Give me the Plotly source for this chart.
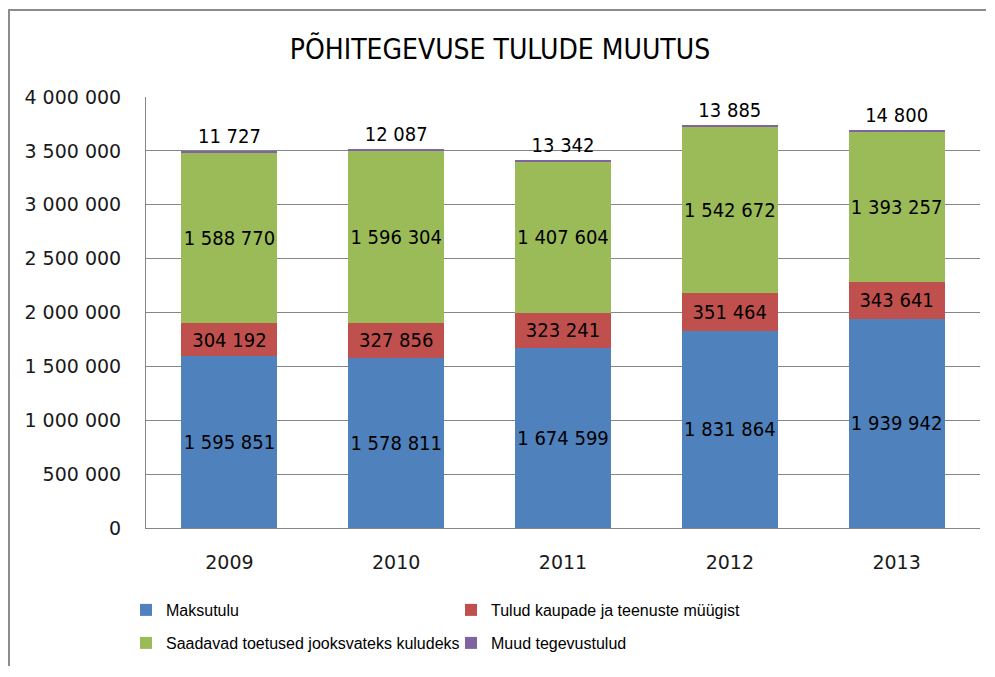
import plotly.graph_objects as go

years = ["2009", "2010", "2011", "2012", "2013"]
maksutulu = [1595851, 1578811, 1674599, 1831864, 1939942]
tulud_kaupade = [304192, 327856, 323241, 351464, 343641]
saadavad = [1588770, 1596304, 1407604, 1542672, 1393257]
muud = [11727, 12087, 13342, 13885, 14800]

series_names = ["Maksutulu", "Tulud kaupade ja teenuste müügist",
                "Saadavad toetused jooksvateks kuludeks", "Muud tegevustulud"]
series_values = [maksutulu, tulud_kaupade, saadavad, muud]
colors = ["#4F81BD", "#C0504D", "#9BBB59", "#8064A2"]
legend_ids = ["legend", "legend", "legend2", "legend2"]
tick_vals = [0, 500000, 1000000, 1500000, 2000000, 2500000, 3000000, 3500000, 4000000]

LABEL_FONT = dict(family="DejaVu Sans Condensed", size=20, color="#000000")
TICK_FONT = dict(family="DejaVu Sans", size=19, color="#1a1a1a")
LEG_FONT = dict(family="Liberation Sans", size=16, color="#000000")

# page offset (browser body margin) = 8 px
OFF = 8
W, H = 995 - 2 * OFF, 677 - 2 * OFF - 2
# plot area in screen pixels
SL, SR, ST, SB = 146, 980, 97, 528
L, R, T, B = SL - OFF, W - (SR - OFF), ST - OFF, H - (SB - OFF)
pw, ph = W - L - R, H - T - B


def px_x(sx):
    return (sx - OFF - L) / pw


def px_y(sy):
    return (H - B - (sy - OFF)) / ph


fig = go.Figure()
for i, (name, vals, col, lg) in enumerate(zip(series_names, series_values, colors, legend_ids)):
    top = i == len(series_names) - 1
    fig.add_trace(go.Bar(
        x=years, y=vals, name=name, legend=lg,
        marker=dict(color=col, line=dict(width=0)),
        texttemplate="%{y:,.0f}",
        textposition="outside" if top else "inside",
        insidetextanchor="middle",
        textangle=0,
        constraintext="none",
        cliponaxis=False,
        textfont=LABEL_FONT,
        outsidetextfont=LABEL_FONT,
        insidetextfont=LABEL_FONT,
        hoverinfo="skip",
    ))

leg_common = dict(orientation="h", xanchor="left", yanchor="middle",
                  entrywidth=280, font=LEG_FONT, traceorder="normal",
                  itemwidth=30, bgcolor="rgba(0,0,0,0)")

fig.update_layout(
    width=W, height=H,
    margin=dict(l=L, r=R, t=T, b=B, autoexpand=False),
    barmode="stack",
    bargap=0.425,
    separators=", ",
    paper_bgcolor="white", plot_bgcolor="white",
    font=dict(family="DejaVu Sans", color="#000000"),
    title=dict(text="PÕHITEGEVUSE TULUDE MUUTUS", x=(500 - OFF) / W, xanchor="center",
               y=1 - (49 - OFF) / H, yanchor="middle",
               font=dict(family="DejaVu Sans Condensed", size=28, color="#000000")),
    xaxis=dict(showline=True, linecolor="#868686", linewidth=1, ticks="",
               tickfont=TICK_FONT, ticklabelstandoff=17, fixedrange=True,
               automargin=False),
    yaxis=dict(range=[0, 4000000], tickvals=tick_vals, tickformat=",.0f",
               showgrid=True, gridcolor="#868686", gridwidth=1,
               showline=True, linecolor="#868686", linewidth=1, ticks="",
               tickfont=TICK_FONT, ticklabelstandoff=20, zeroline=False,
               fixedrange=True, automargin=False),
    legend=dict(x=px_x(126), y=px_y(610), **leg_common),
    legend2=dict(x=px_x(126), y=px_y(643), **leg_common),
    showlegend=True,
    shapes=[
        dict(type="rect", xref="paper", yref="paper", x0=px_x(8), x1=px_x(986),
             y0=px_y(11), y1=px_y(9), fillcolor="#8C8C8C", line=dict(width=0)),
        dict(type="rect", xref="paper", yref="paper", x0=px_x(8), x1=px_x(10),
             y0=px_y(666), y1=px_y(9), fillcolor="#8C8C8C", line=dict(width=0)),
    ],
)

fig.write_html("out.html")
